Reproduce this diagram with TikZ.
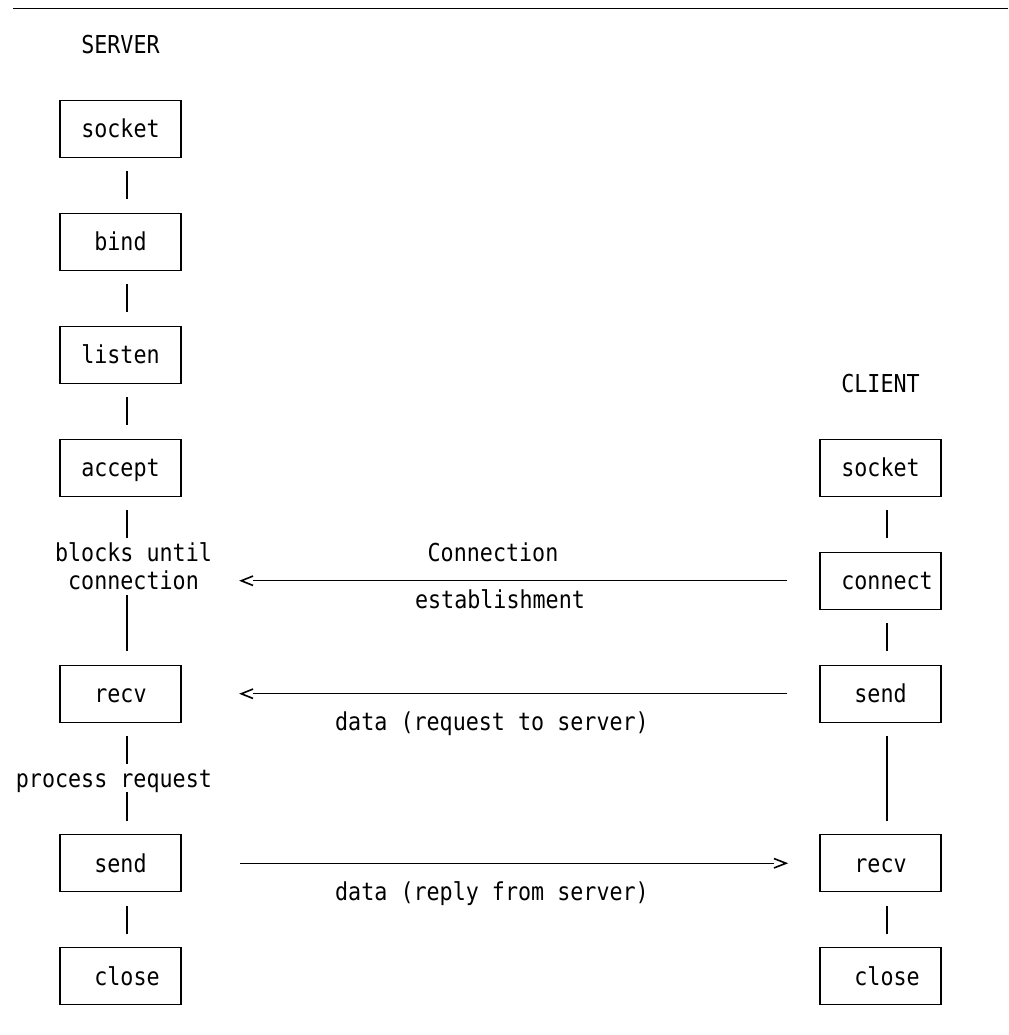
\documentclass[tikz,border=0pt]{standalone}
\usepackage{fontspec}
\newfontfamily\monofnt[FakeStretch=0.88]{DejaVu Sans Mono}
\begin{document}
\begin{tikzpicture}[x=0.75pt,y=-0.75pt,
  every node/.style={font=\monofnt\fontsize{18.5pt}{21pt}\selectfont, inner sep=0pt, outer sep=0pt},
  box/.style={draw, line width=1pt, minimum width=90.75pt, minimum height=42.75pt, text height=13.5pt, text depth=0pt},
  txt/.style={text height=13.5pt, text depth=0pt},
  lbl/.style={anchor=base},
  bar/.style={line width=1.5pt},
  hline/.style={line width=1pt},
  ltip/.pic={\draw[line width=1.2pt] (0,-4.7) -- (-11.7,0) -- (0,4.7);},
  rtip/.pic={\draw[line width=1.2pt] (0,-4.7) -- (12,0) -- (0,4.7);}
]
\fill[white] (0,0) rectangle (1008,1035);
\useasboundingbox (0,0) rectangle (1008,1035);
\draw[line width=1pt] (13,8.3) -- (1008,8.3);

% server column
\node[lbl] (srvt) at (120.5,53) {SERVER};
\node[box] (ssock) at (120.5,128.75) {socket};
\node[box] (sbind) at (120.5,241.75) {bind};
\node[box] (slist) at (120.5,354.75) {listen};
\node[box] (sacc) at (120.5,467.75) {accept};
\node[txt] (blk1) at (133.5,552.5) {blocks until};
\node[txt] (blk2) at (133.5,580.75) {connection};
\node[box] (srecv) at (120.5,693.75) {recv};
\node[txt] (proc) at (113.9,778.5) {process request};
\node[box] (ssend) at (120.5,863.25) {send};
\node[box] (sclose) at (120.5,976.25) {\phantom{x}close};

% client column
\node[lbl] (cltt) at (880.5,392) {CLIENT};
\node[box] (csock) at (880.5,467.75) {socket};
\node[box] (cconn) at (880.5,580.75) {\phantom{x}connect};
\node[box] (csend) at (880.5,693.75) {send};
\node[box] (crecv) at (880.5,863.25) {recv};
\node[box] (cclose) at (880.5,976.25) {\phantom{x}close};

% server bars
\draw[bar, shorten <=10.5pt, shorten >=10.5pt] ([xshift=4.875pt]ssock.south) -- ([xshift=4.875pt]sbind.north);
\draw[bar, shorten <=10.5pt, shorten >=10.5pt] ([xshift=4.875pt]sbind.south) -- ([xshift=4.875pt]slist.north);
\draw[bar, shorten <=10.5pt, shorten >=10.5pt] ([xshift=4.875pt]slist.south) -- ([xshift=4.875pt]sacc.north);
\draw[bar, shorten <=10.5pt, shorten >=4.1pt] ([xshift=4.875pt]sacc.south) -- ([xshift=4.875pt]sacc.south |- blk1.north);
\draw[bar, shorten <=3.9pt, shorten >=10.5pt] ([xshift=4.875pt]srecv.north |- blk2.south) -- ([xshift=4.875pt]srecv.north);
\draw[bar, shorten <=10.5pt, shorten >=4.1pt] ([xshift=4.875pt]srecv.south) -- ([xshift=4.875pt]srecv.south |- proc.north);
\draw[bar, shorten <=3.4pt, shorten >=10.5pt] ([xshift=4.875pt]ssend.north |- proc.south) -- ([xshift=4.875pt]ssend.north);
\draw[bar, shorten <=10.5pt, shorten >=10.5pt] ([xshift=4.875pt]ssend.south) -- ([xshift=4.875pt]sclose.north);

% client bars
\draw[bar, shorten <=10.5pt, shorten >=10.5pt] ([xshift=4.875pt]csock.south) -- ([xshift=4.875pt]cconn.north);
\draw[bar, shorten <=10.5pt, shorten >=10.5pt] ([xshift=4.875pt]cconn.south) -- ([xshift=4.875pt]csend.north);
\draw[bar, shorten <=10.5pt, shorten >=10.5pt] ([xshift=4.875pt]csend.south) -- ([xshift=4.875pt]crecv.north);
\draw[bar, shorten <=10.5pt, shorten >=10.5pt] ([xshift=4.875pt]crecv.south) -- ([xshift=4.875pt]cclose.north);

% messages
\coordinate (e1) at (253,580.75);
\draw[hline, shorten <=24.75pt] (cconn.west) -- (e1);
\pic at (e1) {ltip};
\coordinate (e2) at (253,693.75);
\draw[hline, shorten <=24.75pt] (csend.west) -- (e2);
\pic at (e2) {ltip};
\coordinate (e3) at (774,863.25);
\draw[hline, shorten <=44.25pt] (ssend.east) -- (e3);
\pic at (e3) {rtip};

\node[lbl] (lconn) at (493,561.5) {Connection};
\node[lbl] (lest) at (500,608) {establishment};
\node[lbl] (lreq) at (492,730.5) {data (request to server)};
\node[lbl] (lrep) at (492,900) {data (reply from server)};
\end{tikzpicture}
\end{document}
